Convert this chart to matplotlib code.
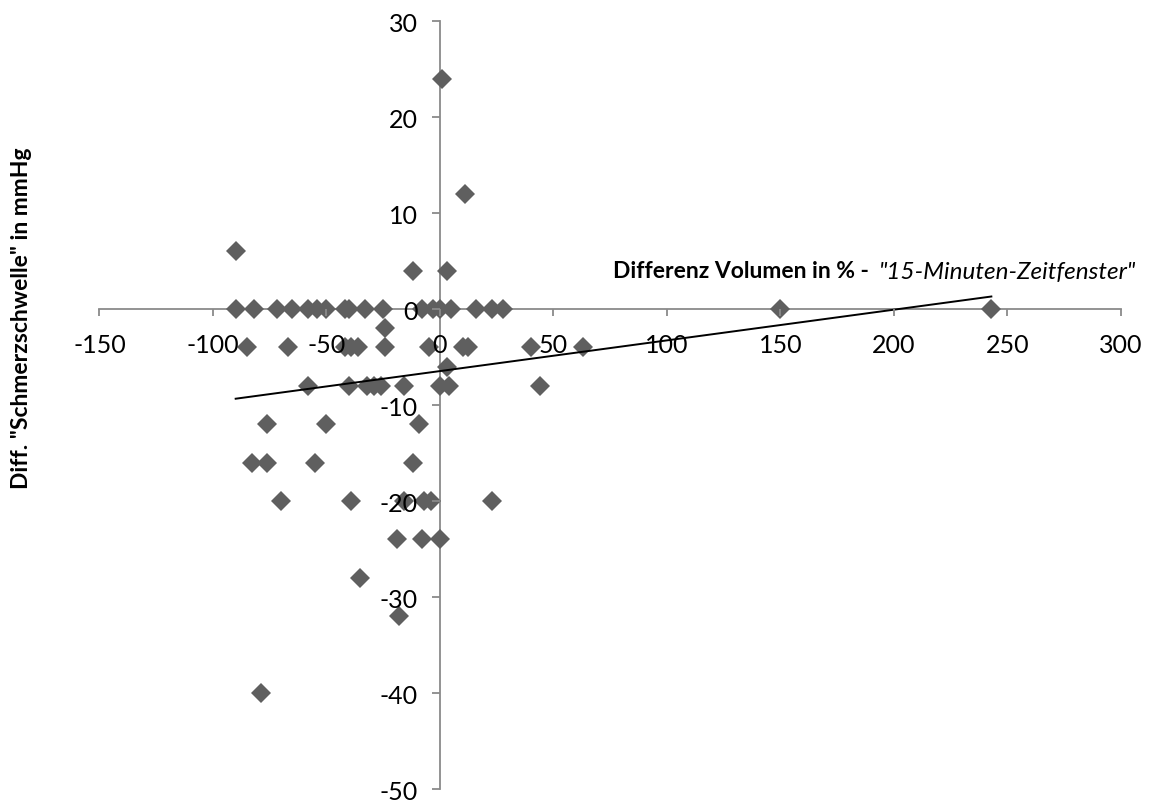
import numpy as np
import matplotlib
matplotlib.use("Agg")
import matplotlib.pyplot as plt

plt.rcParams['font.family'] = ['Lato', 'DejaVu Sans']
plt.rcParams['axes.unicode_minus'] = False

# Data (x: Differenz Volumen in %, y: Diff. Schmerzschwelle in mmHg)
x_vals = [
    -90,                      # y=6
    -12, 3,                   # y=4
    1,                        # y=24
    11,                       # y=12
    -90, -82, -72, -65, -58, -54, -50, -42, -40, -33, -25, -8, -3, 0, 5, 16, 23, 28, 150, 243,  # y=0
    -24,                      # y=-2
    -85, -67, -42, -39, -36, -24, -5, 10, 12.5, 40, 63,  # y=-4
    3,                        # y=-6
    -58, -40, -32, -29, -26, -16, 0, 4, 44,  # y=-8
    -76, -50, -9,             # y=-12
    -83, -76, -55, -12,       # y=-16
    -70, -39, -16, -7, -4, 23,  # y=-20
    -19, -8, 0,               # y=-24
    -35,                      # y=-28
    -18,                      # y=-32
    -79,                      # y=-40
]
y_vals = (
    [6] + [4] * 2 + [24] + [12] + [0] * 20 + [-2] + [-4] * 11 + [-6] + [-8] * 9
    + [-12] * 3 + [-16] * 4 + [-20] * 6 + [-24] * 3 + [-28] + [-32] + [-40]
)

x_ticks = [-150, -100, -50, 0, 50, 100, 150, 200, 250, 300]
y_ticks = [-50, -40, -30, -20, -10, 0, 10, 20, 30]

W, H = 1164, 803
fig = plt.figure(figsize=(W / 100, H / 100), dpi=100)
ax = fig.add_axes([99.5 / W, 1 - 790 / H, (1120.7 - 99.5) / W, (790 - 22) / H])

marker_color = '#5f5f5f'
axis_color = '#8a8a8a'

ax.plot(x_vals, y_vals, linestyle='none', marker='D', markersize=10,
        markerfacecolor=marker_color, markeredgewidth=0, zorder=3, clip_on=False)

# linear trendline
xa = np.array(x_vals, dtype=float)
ya = np.array(y_vals, dtype=float)
slope, intercept = np.polyfit(xa, ya, 1)
xt = np.array([xa.min(), xa.max()])
ax.plot(xt, slope * xt + intercept, color='black', linewidth=1.4, zorder=4)

ax.set_xlim(-150, 300)
ax.set_ylim(-50, 30)
ax.set_xticks(x_ticks)
ax.set_yticks(y_ticks)
ax.set_xticklabels([str(v) for v in x_ticks])
ax.set_yticklabels([str(v) for v in y_ticks])

ax.spines['left'].set_position(('data', 0))
ax.spines['bottom'].set_position(('data', 0))
ax.spines['top'].set_visible(False)
ax.spines['right'].set_visible(False)
for s in ('left', 'bottom'):
    ax.spines[s].set_color(axis_color)
    ax.spines[s].set_linewidth(1.3)
    ax.spines[s].set_zorder(2)

ax.tick_params(axis='x', direction='out', length=5, width=1.3, color=axis_color,
               labelsize=18, pad=12, labelcolor='black')
ax.tick_params(axis='y', direction='out', length=6, width=1.3, color=axis_color,
               labelsize=18, pad=10, labelcolor='black')
ax.xaxis.set_zorder(5)
ax.yaxis.set_zorder(5)
ax.patch.set_visible(False)

# y-axis title
fig.text(22 / W, 1 - 318 / H, 'Diff. "Schmerzschwelle" in mmHg', rotation=90,
         ha='center', va='center', fontsize=16.5, fontweight='bold')

# x-axis title (bold + italic parts)
fig.canvas.draw()
t2 = fig.text(1136 / W, 1 - 272 / H, '"15-Minuten-Zeitfenster"', ha='right', va='center',
              fontsize=17.5, fontstyle='italic')
fig.canvas.draw()
bb = t2.get_window_extent()
fig.text((bb.x0 - 4) / W, 1 - 272 / H, 'Differenz Volumen in % - ', ha='right', va='center',
         fontsize=16.5, fontweight='bold')

fig.savefig('out.png', dpi=100)
